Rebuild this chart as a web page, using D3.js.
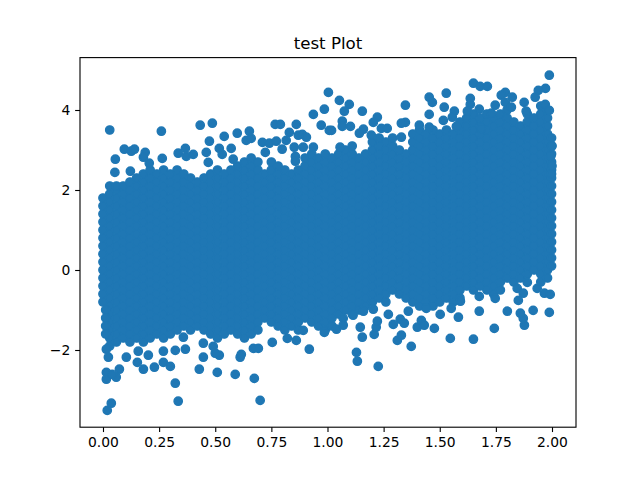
<!DOCTYPE html>
<html><head><meta charset="utf-8">
<script src="https://cdn.jsdelivr.net/npm/d3@7/dist/d3.min.js"></script>
<style>html,body{margin:0;background:#fff}svg{display:block}text{font-family:"DejaVu Sans"}</style>
</head><body><script>
const titleText = "test Plot";
const xTicks = [0,0.25,0.5,0.75,1,1.25,1.5,1.75,2];
const yTicks = [-2,0,2,4];
const xDomain = [-0.1024,2.1069];
const yDomain = [-3.93,5.31];
const topPoints = [[.03,3.5],[.26,3.47],[.433,3.62],[.487,3.67],[.474,3.22],[.54,3.34],[.598,3.42],[.652,3.47],[.638,3.24],[.66,3.29],[.767,3.64],[.79,3.64],[.861,3.64],[.83,3.44],[.87,3.37],[.888,3.39],[.906,3.32],[.972,3.62],[.937,3.89],[.986,4.02],[1.004,4.44],[1.008,3.49],[.095,3.02],[.126,2.97],[.14,3.02],[.188,2.94],[.18,2.82],[.055,2.77],[.206,2.67],[.264,2.79],[.335,2.92],[.367,3.04],[.371,2.84],[.402,2.89],[.46,2.94],[.469,2.69],[.518,3.04],[.531,2.89],[.571,3.04],[.58,2.77],[.71,3.19],[.741,3.17],[.772,3.22],[.816,3.24],[.723,2.94],[.798,3.02],[.852,3.07],[.892,3.07],[.857,2.84],[.937,3.07],[.857,2.72],[.053,2.44],[.122,2.47],[1.053,4.24],[1.097,4.14],[1.075,3.97],[1.155,3.97],[1.347,4.12],[1.453,4.32],[1.467,4.19],[1.529,4.42],[1.453,3.89],[1.52,4.07],[1.565,3.97],[1.556,3.82],[1.65,4.67],[1.68,4.59],[1.712,4.59],[1.988,4.87],[1.971,4.54],[1.939,4.49],[1.925,4.32],[1.876,4.19],[1.792,4.44],[1.774,4.37],[1.823,4.32],[1.636,4.29],[1.636,4.14],[1.676,4.02],[1.747,4.12],[1.792,4.19],[1.819,4.07],[1.97,4.14],[1.988,3.99],[1.623,3.97],[1.885,3.97],[1.066,3.72],[1.102,3.59],[1.018,3.49],[1.066,3.59],[1.222,3.82],[1.204,3.69],[1.16,3.52],[1.142,3.42],[1.24,3.54],[1.266,3.54],[1.347,3.69],[1.329,3.67],[1.329,3.32],[1.195,3.37],[1.409,3.62],[1.453,3.57],[1.516,3.74],[1.574,3.59],[1.685,3.54],[1.73,3.92],[1.056,3.07],[2,3.1],[1.995,2.85],[2,2.6],[1.998,2.4]];
const bottomPoints = [[.019,-3.51],[.037,-3.33],[.335,-3.28],[.7,-3.26],[.322,-2.83],[.674,-2.71],[.015,-2.73],[.059,-2.68],[.015,-2.56],[.041,-2.61],[.073,-2.48],[.153,-2.31],[.18,-2.48],[.229,-2.43],[.269,-2.31],[.3,-2.41],[.429,-2.48],[.509,-2.56],[.589,-2.61],[.447,-2.18],[.518,-2.13],[.611,-2.18],[.616,-2.11],[.67,-1.96],[.692,-1.96],[.754,-1.81],[.919,-1.98],[.861,-1.76],[.821,-1.71],[.892,-1.51],[.986,-1.56],[.202,-2.13],[.157,-2.03],[.104,-2.18],[.024,-2.18],[.015,-1.98],[.322,-2.01],[.367,-1.98],[.269,-2.03],[.491,-1.91],[.5,-2.08],[.447,-1.83],[.358,-1.68],[1.226,-2.41],[1.133,-2.28],[1.129,-2.06],[1.373,-1.91],[1.155,-1.68],[1.208,-1.61],[1.217,-1.43],[1.222,-1.28],[1.146,-1.43],[1.311,-1.76],[1.329,-1.63],[1.293,-1.36],[1.324,-1.23],[1.342,-1.33],[1.271,-1.11],[1.4,-1.43],[1.418,-1.26],[1.431,-1.38],[1.476,-1.46],[1.547,-1.71],[1.65,-1.73],[1.743,-1.46],[1.583,-1.18],[1.676,-1.03],[1.801,-1.03],[1.877,-1.38],[1.872,-1.21],[1.859,-1.08],[1.916,-1.01],[1.988,-1.06],[1.592,-.78],[1.676,-.66],[1.747,-.71],[1.85,-.76],[1.845,-.46],[1.872,-.58],[1.89,-.31],[1.934,-.46],[1.966,-.58],[1.992,-.61],[1.36,-1.03],[1.551,-.96],[1.502,-1.11],[1.44,-.96],[1.16,-1.03],[1.204,-.98],[1.114,-1.13],[1.07,-1.21],[1.04,-1.48],[1.07,-1.38],[.012,-1],[.012,-1.2],[.012,-1.4],[.012,-1.6]];
const massX = [0,.03,.06,.09,.12,.15,.18,.21,.24,.27,.3,.33,.36,.39,.42,.45,.48,.51,.54,.57,.6,.63,.66,.69,.72,.75,.78,.81,.84,.87,.9,.93,.96,.99,1.02,1.05,1.08,1.11,1.14,1.17,1.2,1.23,1.26,1.29,1.32,1.35,1.38,1.41,1.44,1.47,1.5,1.53,1.56,1.59,1.62,1.65,1.68,1.71,1.74,1.77,1.8,1.83,1.86,1.89,1.92,1.95,1.98,1.998];
const massY = [
[-.8,-.6,-.4,-.2,0,.2,.4,.6,.8,1,1.2,1.4,1.6,1.8],
[-1.9,-1.7,-1.5,-1.3,-1.1,-.9,-.7,-.5,-.3,-.1,.1,.3,.5,.7,.9,1.1,1.3,1.5,1.7,1.9,2.1],
[-1.8,-1.6,-1.4,-1.2,-1,-.8,-.6,-.4,-.2,0,.2,.4,.6,.8,1,1.2,1.4,1.6,1.8,2,2.1],
[-1.7,-1.5,-1.3,-1.1,-.9,-.7,-.5,-.3,-.1,.1,.3,.5,.7,.9,1.1,1.3,1.5,1.7,1.9,2.1],
[-1.8,-1.6,-1.4,-1.2,-1,-.8,-.6,-.4,-.2,0,.2,.4,.6,.8,1,1.2,1.4,1.6,1.8,2,2.2],
[-1.7,-1.5,-1.3,-1.1,-.9,-.7,-.5,-.3,-.1,.1,.3,.5,.7,.9,1.1,1.3,1.5,1.7,1.9,2.1,2.3],
[-1.8,-1.6,-1.4,-1.2,-1,-.8,-.6,-.4,-.2,0,.2,.4,.6,.8,1,1.2,1.4,1.6,1.8,2,2.2,2.4],
[-1.7,-1.5,-1.3,-1.1,-.9,-.7,-.5,-.3,-.1,.1,.3,.5,.7,.9,1.1,1.3,1.5,1.7,1.9,2.1,2.3,2.5],
[-1.6,-1.4,-1.2,-1,-.8,-.6,-.4,-.2,0,.2,.4,.6,.8,1,1.2,1.4,1.6,1.8,2,2.2,2.4],
[-1.7,-1.5,-1.3,-1.1,-.9,-.7,-.5,-.3,-.1,.1,.3,.5,.7,.9,1.1,1.3,1.5,1.7,1.9,2.1,2.3,2.5],
[-1.6,-1.4,-1.2,-1,-.8,-.6,-.4,-.2,0,.2,.4,.6,.8,1,1.2,1.4,1.6,1.8,2,2.2,2.4],
[-1.5,-1.3,-1.1,-.9,-.7,-.5,-.3,-.1,.1,.3,.5,.7,.9,1.1,1.3,1.5,1.7,1.9,2.1,2.3,2.5],
[-1.4,-1.2,-1,-.8,-.6,-.4,-.2,0,.2,.4,.6,.8,1,1.2,1.4,1.6,1.8,2,2.2,2.4],
[-1.5,-1.3,-1.1,-.9,-.7,-.5,-.3,-.1,.1,.3,.5,.7,.9,1.1,1.3,1.5,1.7,1.9,2.1,2.3],
[-1.4,-1.2,-1,-.8,-.6,-.4,-.2,0,.2,.4,.6,.8,1,1.2,1.4,1.6,1.8,2,2.2],
[-1.5,-1.3,-1.1,-.9,-.7,-.5,-.3,-.1,.1,.3,.5,.7,.9,1.1,1.3,1.5,1.7,1.9,2.1,2.3],
[-1.6,-1.4,-1.2,-1,-.8,-.6,-.4,-.2,0,.2,.4,.6,.8,1,1.2,1.4,1.6,1.8,2,2.2,2.4],
[-1.7,-1.5,-1.3,-1.1,-.9,-.7,-.5,-.3,-.1,.1,.3,.5,.7,.9,1.1,1.3,1.5,1.7,1.9,2.1,2.3,2.5],
[-1.6,-1.4,-1.2,-1,-.8,-.6,-.4,-.2,0,.2,.4,.6,.8,1,1.2,1.4,1.6,1.8,2,2.2,2.4],
[-1.5,-1.3,-1.1,-.9,-.7,-.5,-.3,-.1,.1,.3,.5,.7,.9,1.1,1.3,1.5,1.7,1.9,2.1,2.3,2.5],
[-1.6,-1.4,-1.2,-1,-.8,-.6,-.4,-.2,0,.2,.4,.6,.8,1,1.2,1.4,1.6,1.8,2,2.2,2.4,2.6],
[-1.7,-1.5,-1.3,-1.1,-.9,-.7,-.5,-.3,-.1,.1,.3,.5,.7,.9,1.1,1.3,1.5,1.7,1.9,2.1,2.3,2.5,2.7],
[-1.6,-1.4,-1.2,-1,-.8,-.6,-.4,-.2,0,.2,.4,.6,.8,1,1.2,1.4,1.6,1.8,2,2.2,2.4,2.6,2.8],
[-1.5,-1.3,-1.1,-.9,-.7,-.5,-.3,-.1,.1,.3,.5,.7,.9,1.1,1.3,1.5,1.7,1.9,2.1,2.3,2.5,2.7],
[-1.2,-1,-.8,-.6,-.4,-.2,0,.2,.4,.6,.8,1,1.2,1.4,1.6,1.8,2,2.2,2.4],
[-1.3,-1.1,-.9,-.7,-.5,-.3,-.1,.1,.3,.5,.7,.9,1.1,1.3,1.5,1.7,1.9,2.1,2.3,2.5,2.7],
[-1.4,-1.2,-1,-.8,-.6,-.4,-.2,0,.2,.4,.6,.8,1,1.2,1.4,1.6,1.8,2,2.2,2.4,2.6],
[-1.5,-1.3,-1.1,-.9,-.7,-.5,-.3,-.1,.1,.3,.5,.7,.9,1.1,1.3,1.5,1.7,1.9,2.1,2.3,2.5],
[-1.4,-1.2,-1,-.8,-.6,-.4,-.2,0,.2,.4,.6,.8,1,1.2,1.4,1.6,1.8,2,2.2,2.4],
[-1.5,-1.3,-1.1,-.9,-.7,-.5,-.3,-.1,.1,.3,.5,.7,.9,1.1,1.3,1.5,1.7,1.9,2.1,2.3,2.5],
[-1.2,-1,-.8,-.6,-.4,-.2,0,.2,.4,.6,.8,1,1.2,1.4,1.6,1.8,2,2.2,2.4,2.6,2.8],
[-1.3,-1.1,-.9,-.7,-.5,-.3,-.1,.1,.3,.5,.7,.9,1.1,1.3,1.5,1.7,1.9,2.1,2.3,2.5,2.7,2.9],
[-1.4,-1.2,-1,-.8,-.6,-.4,-.2,0,.2,.4,.6,.8,1,1.2,1.4,1.6,1.8,2,2.2,2.4,2.6,2.8],
[-1.5,-1.3,-1.1,-.9,-.7,-.5,-.3,-.1,.1,.3,.5,.7,.9,1.1,1.3,1.5,1.7,1.9,2.1,2.3,2.5,2.7,2.9],
[-1.4,-1.2,-1,-.8,-.6,-.4,-.2,0,.2,.4,.6,.8,1,1.2,1.4,1.6,1.8,2,2.2,2.4,2.6,2.8],
[-1.1,-.9,-.7,-.5,-.3,-.1,.1,.3,.5,.7,.9,1.1,1.3,1.5,1.7,1.9,2.1,2.3,2.5,2.7,2.9],
[-1,-.8,-.6,-.4,-.2,0,.2,.4,.6,.8,1,1.2,1.4,1.6,1.8,2,2.2,2.4,2.6,2.8,3],
[-1.1,-.9,-.7,-.5,-.3,-.1,.1,.3,.5,.7,.9,1.1,1.3,1.5,1.7,1.9,2.1,2.3,2.5,2.7,2.9,3.1],
[-1,-.8,-.6,-.4,-.2,0,.2,.4,.6,.8,1,1.2,1.4,1.6,1.8,2,2.2,2.4,2.6,2.8],
[-.9,-.7,-.5,-.3,-.1,.1,.3,.5,.7,.9,1.1,1.3,1.5,1.7,1.9,2.1,2.3,2.5,2.7,2.9],
[-.8,-.6,-.4,-.2,0,.2,.4,.6,.8,1,1.2,1.4,1.6,1.8,2,2.2,2.4,2.6,2.8,3,3.2],
[-.7,-.5,-.3,-.1,.1,.3,.5,.7,.9,1.1,1.3,1.5,1.7,1.9,2.1,2.3,2.5,2.7,2.9,3.1,3.3],
[-.8,-.6,-.4,-.2,0,.2,.4,.6,.8,1,1.2,1.4,1.6,1.8,2,2.2,2.4,2.6,2.8,3,3.2],
[-.5,-.3,-.1,.1,.3,.5,.7,.9,1.1,1.3,1.5,1.7,1.9,2.1,2.3,2.5,2.7,2.9,3.1,3.3],
[-.6,-.4,-.2,0,.2,.4,.6,.8,1,1.2,1.4,1.6,1.8,2,2.2,2.4,2.6,2.8,3],
[-.7,-.5,-.3,-.1,.1,.3,.5,.7,.9,1.1,1.3,1.5,1.7,1.9,2.1,2.3,2.5,2.7,2.9],
[-.8,-.6,-.4,-.2,0,.2,.4,.6,.8,1,1.2,1.4,1.6,1.8,2,2.2,2.4,2.6,2.8,3,3.2,3.4],
[-.9,-.7,-.5,-.3,-.1,.1,.3,.5,.7,.9,1.1,1.3,1.5,1.7,1.9,2.1,2.3,2.5,2.7,2.9,3.1,3.3,3.5],
[-.8,-.6,-.4,-.2,0,.2,.4,.6,.8,1,1.2,1.4,1.6,1.8,2,2.2,2.4,2.6,2.8,3,3.2,3.4],
[-.9,-.7,-.5,-.3,-.1,.1,.3,.5,.7,.9,1.1,1.3,1.5,1.7,1.9,2.1,2.3,2.5,2.7,2.9,3.1,3.3,3.5],
[-.8,-.6,-.4,-.2,0,.2,.4,.6,.8,1,1.2,1.4,1.6,1.8,2,2.2,2.4,2.6,2.8,3,3.2,3.4],
[-.7,-.5,-.3,-.1,.1,.3,.5,.7,.9,1.1,1.3,1.5,1.7,1.9,2.1,2.3,2.5,2.7,2.9,3.1,3.3,3.5],
[-.8,-.6,-.4,-.2,0,.2,.4,.6,.8,1,1.2,1.4,1.6,1.8,2,2.2,2.4,2.6,2.8,3,3.2,3.4],
[-.7,-.5,-.3,-.1,.1,.3,.5,.7,.9,1.1,1.3,1.5,1.7,1.9,2.1,2.3,2.5,2.7,2.9,3.1,3.3,3.5,3.7],
[-.4,-.2,0,.2,.4,.6,.8,1,1.2,1.4,1.6,1.8,2,2.2,2.4,2.6,2.8,3,3.2,3.4,3.6,3.8],
[-.5,-.3,-.1,.1,.3,.5,.7,.9,1.1,1.3,1.5,1.7,1.9,2.1,2.3,2.5,2.7,2.9,3.1,3.3,3.5,3.7,3.9],
[-.4,-.2,0,.2,.4,.6,.8,1,1.2,1.4,1.6,1.8,2,2.2,2.4,2.6,2.8,3,3.2,3.4,3.6,3.8],
[-.5,-.3,-.1,.1,.3,.5,.7,.9,1.1,1.3,1.5,1.7,1.9,2.1,2.3,2.5,2.7,2.9,3.1,3.3,3.5,3.7,3.9],
[-.6,-.4,-.2,0,.2,.4,.6,.8,1,1.2,1.4,1.6,1.8,2,2.2,2.4,2.6,2.8,3,3.2,3.4,3.6,3.8],
[-.5,-.3,-.1,.1,.3,.5,.7,.9,1.1,1.3,1.5,1.7,1.9,2.1,2.3,2.5,2.7,2.9,3.1,3.3,3.5,3.7,3.9],
[-.2,0,.2,.4,.6,.8,1,1.2,1.4,1.6,1.8,2,2.2,2.4,2.6,2.8,3,3.2,3.4,3.6,3.8,4],
[-.3,-.1,.1,.3,.5,.7,.9,1.1,1.3,1.5,1.7,1.9,2.1,2.3,2.5,2.7,2.9,3.1,3.3,3.5,3.7],
[-.2,0,.2,.4,.6,.8,1,1.2,1.4,1.6,1.8,2,2.2,2.4,2.6,2.8,3,3.2,3.4,3.6],
[-.1,.1,.3,.5,.7,.9,1.1,1.3,1.5,1.7,1.9,2.1,2.3,2.5,2.7,2.9,3.1,3.3,3.5,3.7,3.9],
[0,.2,.4,.6,.8,1,1.2,1.4,1.6,1.8,2,2.2,2.4,2.6,2.8,3,3.2,3.4,3.6,3.8],
[-.3,-.1,.1,.3,.5,.7,.9,1.1,1.3,1.5,1.7,1.9,2.1,2.3,2.5,2.7,2.9,3.1,3.3,3.5,3.7,3.9,4.1],
[-.2,0,.2,.4,.6,.8,1,1.2,1.4,1.6,1.8,2,2.2,2.4,2.6,2.8,3,3.2,3.4,3.6,3.8,4],
[.1,.3,.5,.7,.9,1.1,1.3,1.5,1.7,1.9,2.1,2.3,2.5,2.7,2.9,3.1,3.3]
];

const W=640,H=480,L=80,R=576,T=57.6,B=427.2,col="#1f77b4";
const svg=d3.select("body").append("svg").attr("width",W).attr("height",H);
const x=d3.scaleLinear().domain(xDomain).range([L,R]);
const y=d3.scaleLinear().domain(yDomain).range([B,T]);
const pts=[...massX.flatMap((v,i)=>massY[i].map(w=>[v,w])),...topPoints,...bottomPoints];
svg.append("g").selectAll("circle").data(pts).join("circle")
  .attr("cx",d=>x(d[0])).attr("cy",d=>y(d[1])).attr("r",4.17)
  .attr("fill",col).attr("stroke",col).attr("stroke-width",1.39);
const style=g=>{g.attr("font-size",13.89).attr("font-family","DejaVu Sans");
  g.select(".domain").remove();
  g.selectAll("line").attr("stroke","#000").attr("stroke-width",1.11);
  g.selectAll("text").attr("fill","#000");};
svg.append("g").attr("transform",`translate(0,${B})`)
  .call(d3.axisBottom(x).tickValues(xTicks).tickFormat(d3.format(".2f")).tickSize(4.86).tickPadding(4.86)).call(style);
svg.append("g").attr("transform",`translate(${L},0)`)
  .call(d3.axisLeft(y).tickValues(yTicks).tickFormat(d=>String(d).replace("-","\u2212")).tickSize(4.86).tickPadding(4.86)).call(style);
svg.append("rect").attr("x",L).attr("y",T).attr("width",R-L).attr("height",B-T)
  .attr("fill","none").attr("stroke","#000").attr("stroke-width",1.11);
svg.append("text").attr("x",(L+R)/2).attr("y",49).attr("text-anchor","middle")
  .attr("font-size",16.67).attr("fill","#000").text(titleText);
</script></body></html>
